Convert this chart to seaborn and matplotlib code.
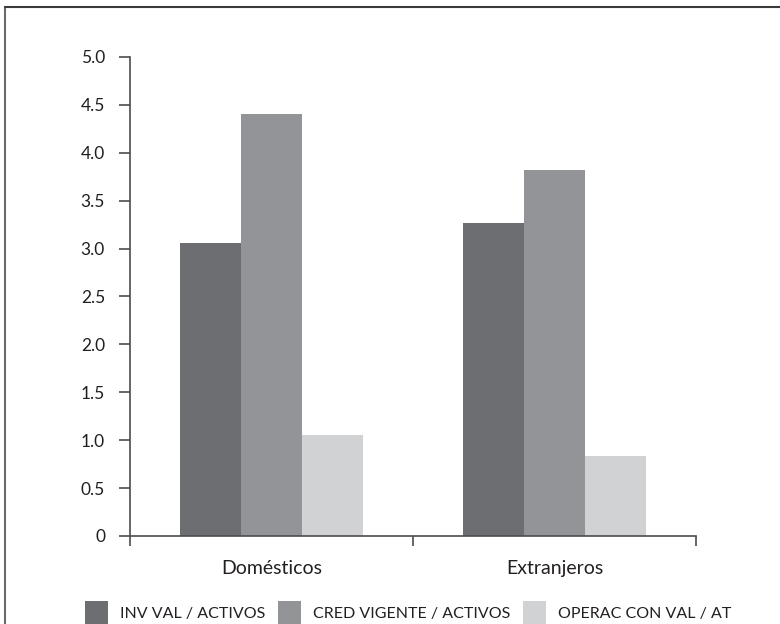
import matplotlib
matplotlib.use("Agg")
import matplotlib.pyplot as plt
from matplotlib.lines import Line2D
import seaborn as sns
import pandas as pd

# values
grupos = ["Domésticos", "Extranjeros"]
series = ["INV VAL / ACTIVOS", "CRED VIGENTE / ACTIVOS", "OPERAC CON VAL / AT"]
inv_val = [3.06, 3.27]
cred_vigente = [4.41, 3.82]
operac_val = [1.05, 0.84]
colores = ["#6d6e72", "#939498", "#d1d2d4"]

df = pd.DataFrame({
    "grupo": grupos * 3,
    "serie": [s for s in series for _ in grupos],
    "valor": inv_val + cred_vigente + operac_val,
})

sns.set_theme(style="white")
plt.rcParams["font.family"] = ["Lato", "DejaVu Sans"]
texto = "#231f20"
eje = "#4d4d4f"

fig = plt.figure(figsize=(7.8, 6.24), dpi=100)
ax = fig.add_axes([130 / 780, 1 - 536 / 624, 566 / 780, 479 / 624])

sns.barplot(data=df, x="grupo", y="valor", hue="serie", palette=colores,
            width=0.65, gap=0, saturation=1, ax=ax, legend=True,
            edgecolor="none", linewidth=0)

ax.set_ylim(0, 5)
ax.set_xlim(-0.5, 1.5)
ax.set_yticks([0, 0.5, 1, 1.5, 2, 2.5, 3, 3.5, 4, 4.5, 5])
ax.set_yticklabels(["0", "0.5", "1.0", "1.5", "2.0", "2.5", "3.0", "3.5", "4.0", "4.5", "5.0"])
ax.set_xticks([-0.5, 0.5, 1.5])
ax.set_xticklabels([])
ax.set_xticks([0, 1], minor=True)
ax.set_xticklabels(grupos, minor=True)
ax.tick_params(axis="x", which="major", direction="out", length=7, width=1.2, color=eje, bottom=True)
ax.tick_params(axis="x", which="minor", length=0, pad=17, labelsize=14, labelcolor=texto)
ax.tick_params(axis="y", direction="out", length=8, width=1.2, color=eje, left=True,
               labelsize=12.5, labelcolor=texto, pad=10)
ax.set_xlabel("")
ax.set_ylabel("")
for s in ["top", "right"]:
    ax.spines[s].set_visible(False)
for s in ["left", "bottom"]:
    ax.spines[s].set_color(eje)
    ax.spines[s].set_linewidth(1.2)

handles, labels = ax.get_legend_handles_labels()
ax.get_legend().remove()
fig.legend(handles, labels, loc="center", bbox_to_anchor=(0.523, 1 - 613 / 624), ncol=3,
           frameon=False, fontsize=11.5, handlelength=1.45, handleheight=1.85,
           handletextpad=0.75, columnspacing=0.8, labelcolor=texto)

# frame lines (left and top) of the original figure box
fig.add_artist(Line2D([5 / 780, 5 / 780], [0, 1 - 7 / 624], transform=fig.transFigure,
                      color="#6a6a6a", lw=1.5))
fig.add_artist(Line2D([5 / 780, 1], [1 - 7 / 624, 1 - 7 / 624], transform=fig.transFigure,
                      color="#3a3a3a", lw=1.5))

fig.savefig("out.png", dpi=100)
